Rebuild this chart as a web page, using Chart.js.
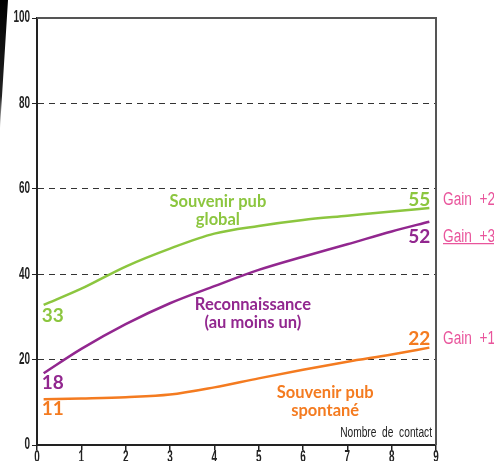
<!DOCTYPE html>
<html>
<head>
<meta charset="utf-8">
<script src="https://cdn.jsdelivr.net/npm/chart.js@4"></script>
<style>
    body { margin: 0; background: #fff; }
    #wrap { width: 494px; height: 461px; }
</style>
</head>
<body>
<div id="wrap"><canvas id="contactChart" width="494" height="461"></canvas></div>
<script>
    // nombre de contacts
    const contacts = [0.15, 1, 2, 3, 4, 5, 6, 7, 8, 8.85];
    const souvenirGlobal = [32.8, 36.6, 41.8, 46, 49.5, 51.3, 52.7, 53.7, 54.7, 55.5];
    const reconnaissance = [16.8, 22.5, 28.3, 33.2, 37.2, 41, 44.1, 47, 50, 52.3];
    const souvenirSpontane = [10.7, 10.9, 11.2, 11.8, 13.5, 15.6, 17.6, 19.5, 21.2, 22.8];

    const startLabels = ["33", "18", "11"];
    const endLabels = ["55", "52", "22"];
    const gainLabels = ["Gain  +22", "Gain  +34", "Gain  +11"];
    const seriesNames = [["Souvenir pub", "global"], ["Reconnaissance", "(au moins un)"], ["Souvenir pub", "spontané"]];
    const xTitle = "Nombre  de  contact";

    const green = "#8cc63f";
    const purple = "#92278f";
    const orange = "#f47b20";
    const pink = "#e9559c";
    const narrowFont = "'Liberation Sans', Arial, sans-serif";
    const boldFont = "Lato, 'Open Sans', sans-serif";

    function toPoints(values) {
        return values.map((v, i) => ({ x: contacts[i], y: v }));
    }

    // texte "condensé" : on compresse horizontalement
    function narrowText(ctx, text, x, y, align, sx) {
        ctx.save();
        ctx.translate(x, y);
        ctx.scale(sx, 1);
        ctx.textAlign = align;
        ctx.fillText(text, 0, 0);
        ctx.restore();
    }

    const series = [
        { data: souvenirGlobal, color: green, nameAt: [4.08, 54.8], startDy: 11, endDy: -8, gainDy: -8 },
        { data: reconnaissance, color: purple, nameAt: [4.87, 30.7], startDy: 10, endDy: 15, gainDy: 15 },
        { data: souvenirSpontane, color: orange, nameAt: [6.5, 10.2], startDy: 10, endDy: -9, gainDy: -9 },
    ];

    const labelsPlugin = {
        id: "labels",
        beforeDraw(chart) {
            const ctx = chart.ctx;
            // bande noire en haut a gauche
            const g = ctx.createLinearGradient(0, 0, 0, 128);
            g.addColorStop(0, "#000");
            g.addColorStop(0.75, "#222");
            g.addColorStop(1, "#ccc");
            ctx.save();
            ctx.fillStyle = g;
            ctx.beginPath();
            ctx.moveTo(0, 0);
            ctx.lineTo(8, 0);
            ctx.lineTo(0, 128);
            ctx.closePath();
            ctx.fill();
            ctx.restore();
        },
        afterDatasetsDraw(chart) {
            const ctx = chart.ctx;
            const xs = chart.scales.x;
            const ys = chart.scales.y;
            const area = chart.chartArea;
            ctx.save();

            // cadre haut et droite
            ctx.strokeStyle = "#555";
            ctx.lineWidth = 2;
            ctx.beginPath();
            ctx.moveTo(area.left, area.top);
            ctx.lineTo(area.right, area.top);
            ctx.lineTo(area.right, area.bottom);
            ctx.stroke();

            // graduations des axes
            ctx.fillStyle = "#222";
            ctx.font = "bold 16px " + narrowFont;
            ctx.textBaseline = "middle";
            ys.ticks.forEach((t, i) => {
                narrowText(ctx, String(t.value), area.left - 7, ys.getPixelForTick(i), "right", 0.62);
            });
            ctx.textBaseline = "top";
            xs.ticks.forEach((t, i) => {
                narrowText(ctx, String(t.value), xs.getPixelForTick(i), area.bottom + 5, "center", 0.62);
            });

            ctx.textBaseline = "middle";
            series.forEach((s, i) => {
                const first = s.data[0];
                const last = s.data[s.data.length - 1];
                const x0 = xs.getPixelForValue(contacts[0]);
                const x1 = xs.getPixelForValue(contacts[contacts.length - 1]);

                ctx.fillStyle = s.color;
                ctx.font = "bold 19px " + boldFont;
                ctx.textAlign = "left";
                ctx.fillText(startLabels[i], x0 - 2, ys.getPixelForValue(first) + s.startDy);
                ctx.textAlign = "right";
                ctx.fillText(endLabels[i], x1 + 1, ys.getPixelForValue(last) + s.endDy);

                ctx.font = "bold 16.5px " + boldFont;
                ctx.textAlign = "center";
                const cx = xs.getPixelForValue(s.nameAt[0]);
                const cy = ys.getPixelForValue(s.nameAt[1]);
                ctx.fillText(seriesNames[i][0], cx, cy - 9);
                ctx.fillText(seriesNames[i][1], cx, cy + 9);

                ctx.fillStyle = pink;
                ctx.font = "18px " + narrowFont;
                const gy = ys.getPixelForValue(last) + s.gainDy;
                narrowText(ctx, gainLabels[i], area.right + 7, gy, "left", 0.76);
                if (i === 1) {
                    ctx.strokeStyle = pink;
                    ctx.lineWidth = 1.2;
                    ctx.beginPath();
                    ctx.moveTo(area.right + 7, gy + 7);
                    ctx.lineTo(chart.width, gy + 7);
                    ctx.stroke();
                }
            });

            ctx.fillStyle = "#222";
            ctx.font = "15px " + narrowFont;
            narrowText(ctx, xTitle, area.right - 4, area.bottom - 12, "right", 0.68);
            ctx.restore();
        },
    };

    new Chart(document.querySelector("#contactChart"), {
        type: "line",
        data: {
            datasets: series.map((s) => ({
                data: toPoints(s.data),
                borderColor: s.color,
                borderWidth: 2.5,
                pointRadius: 0,
                tension: 0.4,
                cubicInterpolationMode: "monotone",
                fill: false,
            })),
        },
        options: {
            responsive: false,
            animation: false,
            layout: { padding: { top: 18, right: 58, left: 0, bottom: 0 } },
            plugins: { legend: { display: false }, tooltip: { enabled: false } },
            scales: {
                x: {
                    type: "linear",
                    min: 0,
                    max: 9,
                    afterFit: (scale) => { scale.height = 16; },
                    ticks: { stepSize: 1, display: false },
                    grid: { drawOnChartArea: false, tickLength: 5, color: "#222", lineWidth: 1.5 },
                    border: { color: "#222", width: 2 },
                },
                y: {
                    min: 0,
                    max: 100,
                    afterFit: (scale) => { scale.width = 37; },
                    ticks: { stepSize: 20, display: false },
                    grid: {
                        tickLength: 5,
                        lineWidth: 1,
                        color: (c) => (c.tick && (c.tick.value === 0 || c.tick.value === 100) ? "rgba(0,0,0,0)" : "#333"),
                        tickColor: "#222",
                    },
                    border: { color: "#222", width: 2, dash: [6, 5] },
                },
            },
        },
        plugins: [labelsPlugin],
    });
</script>
</body>
</html>
